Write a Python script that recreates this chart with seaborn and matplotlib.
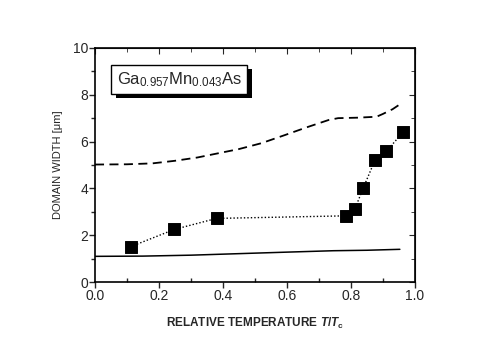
import numpy as np
import pandas as pd
import matplotlib
matplotlib.use('Agg')
import matplotlib.pyplot as plt
import matplotlib.patheffects as pe
from matplotlib.ticker import MultipleLocator
import seaborn as sns

# measured domain widths (squares)
t_meas = [0.111, 0.248, 0.380, 0.786, 0.812, 0.838, 0.875, 0.911, 0.963]
w_meas = [1.51, 2.25, 2.72, 2.83, 3.11, 4.00, 5.20, 5.59, 6.40]

# upper curve (dashed)
t_upper = [0.0, 0.10, 0.18, 0.25, 0.32, 0.385, 0.45, 0.52, 0.594, 0.66, 0.73, 0.76, 0.82, 0.88, 0.90, 0.93, 0.953]
w_upper = [5.02, 5.03, 5.07, 5.18, 5.32, 5.50, 5.68, 5.93, 6.28, 6.60, 6.92, 7.00, 7.02, 7.06, 7.18, 7.38, 7.59]

# lower curve (solid)
t_lower = [0.0, 0.15, 0.30, 0.484, 0.60, 0.745, 0.85, 0.953]
w_lower = [1.10, 1.11, 1.15, 1.23, 1.28, 1.34, 1.36, 1.40]

sns.set_style('ticks')
plt.rcParams['font.family'] = ['Liberation Sans', 'DejaVu Sans']
plt.rcParams['mathtext.fontset'] = 'custom'
plt.rcParams['mathtext.rm'] = 'Liberation Sans'
plt.rcParams['mathtext.it'] = 'Liberation Sans:italic'
plt.rcParams['mathtext.bf'] = 'Liberation Sans:bold'
plt.rcParams['mathtext.bfit'] = 'Liberation Sans:italic:bold'

fig = plt.figure(figsize=(4.91, 3.47), dpi=100)
ax = fig.add_axes([0.1935, 0.187, 0.6515, 0.675])

sns.lineplot(x=t_upper, y=w_upper, ax=ax, color='black', lw=1.3,
             linestyle=(0, (5, 3)), sort=False)
sns.lineplot(x=t_lower, y=w_lower, ax=ax, color='black', lw=1.1, sort=False)
sns.lineplot(x=t_meas, y=w_meas, ax=ax, color='black', lw=1.0,
             linestyle=(0, (1, 1.5)), sort=False)
sns.scatterplot(x=t_meas, y=w_meas, ax=ax, marker='s', s=70, color='black',
                edgecolor='black', zorder=5)

ax.set_xlim(0, 1.0)
ax.set_ylim(0, 10)
ax.xaxis.set_major_locator(MultipleLocator(0.2))
ax.xaxis.set_minor_locator(MultipleLocator(0.1))
ax.yaxis.set_major_locator(MultipleLocator(2))
ax.yaxis.set_minor_locator(MultipleLocator(1))
ax.set_xticks(np.arange(0, 1.01, 0.2))
ax.set_xticklabels(['0.0', '0.2', '0.4', '0.6', '0.8', '1.0'])
for s in ax.spines.values():
    s.set_linewidth(1.2)
    s.set_color('black')
ax.tick_params(which='major', direction='out', length=4, width=1, labelsize=10, pad=1)
ax.tick_params(which='minor', direction='in', length=3, width=1)
ax.tick_params(axis='y', which='minor', direction='out')

top = ax.secondary_xaxis('top')
top.xaxis.set_major_locator(MultipleLocator(0.2))
top.xaxis.set_minor_locator(MultipleLocator(0.1))
top.tick_params(which='both', direction='in', length=4, labeltop=False)
top.tick_params(which='minor', length=3)
right = ax.secondary_yaxis('right')
right.yaxis.set_major_locator(MultipleLocator(2))
right.yaxis.set_minor_locator(MultipleLocator(1))
right.tick_params(which='both', direction='in', length=4, labelright=False)
right.tick_params(which='minor', length=3)

ax.set_xlabel(r'RELATIVE TEMPERATURE $\mathbfit{T}\mathbf{/}\mathbfit{T}_\mathbf{c}$',
              fontsize=8.5, fontweight='bold', labelpad=9)
ax.set_ylabel('DOMAIN WIDTH [μm]', fontsize=8, labelpad=7)

txt = ax.text(0.068, 0.866, r'Ga$_{0.957}$Mn$_{0.043}$As', transform=ax.transAxes,
              fontsize=12, va='center', ha='left',
              bbox=dict(boxstyle='square,pad=0.32', fc='white', ec='black', lw=1))
txt.get_bbox_patch().set_path_effects([
    pe.SimplePatchShadow(offset=(3, -3), shadow_rgbFace='black', alpha=1),
    pe.Normal()])

fig.savefig('out.png', dpi=100)
